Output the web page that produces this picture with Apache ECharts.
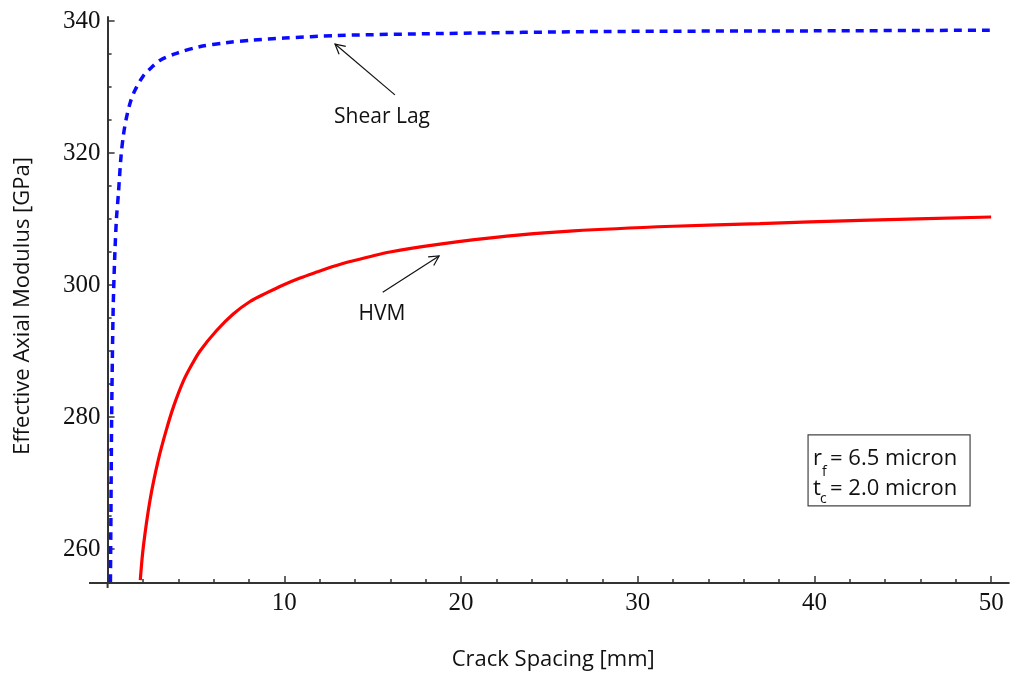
<!DOCTYPE html>
<html><head><meta charset="utf-8">
<script src="https://cdn.jsdelivr.net/npm/echarts@6/dist/echarts.min.js"></script>
<style>html,body{margin:0;padding:0;background:#fff}#c{width:1011px;height:679px}</style>
</head><body><div id="c"></div>
<script>
// ---- data ----
const shearLagX = [0.16,0.18,0.20,0.23,0.27,0.32,0.40,0.50,0.61,0.76,0.90,1.08,1.30,1.55,2.0,2.5,3.0,3.9,5.2,6.7,8.2,10,13,19,28,40,50];
const shearLagY = [255,262,270,280,289,297,304,310,313.8,319.5,322.8,325.5,327.8,329.5,331.6,333.0,334.1,335.1,336.1,336.7,337.1,337.4,337.8,338.1,338.4,338.5,338.6];
const hvmX = [1.85,2.02,2.4,2.87,3.34,3.76,4.28,4.76,5.23,6.17,7.11,8.06,9.0,9.94,10.89,11.83,12.7,13.72,15.98,18.81,22.59,26.36,32,36.9,42.6,50];
const hvmY = [255.3,260.3,267.4,273.5,278.2,281.8,285.4,287.9,290.0,293.1,295.6,297.5,298.8,300.0,301.05,301.95,302.75,303.55,305.0,306.2,307.4,308.2,308.9,309.3,309.8,310.3];
const xMajorTicks = [10,20,30,40,50];
const xMinorTicks = [2,4,6,8,12,14,16,18,22,24,26,28,32,34,36,38,42,44,46,48];
const yMajorTicks = [260,280,300,320,340];
const yMinorTicks = [255,265,270,275,285,290,295,305,310,315,325,330,335];
const xTitle = 'Crack Spacing [mm]';
const yTitle = 'Effective Axial Modulus [GPa]';
const seriesNames = ['Shear Lag','HVM'];
// annotation anchors in data coordinates
const shearLagNote = {text:[15.53,325.5], tail:[16.26,328.8], head:[12.87,336.5]};
const hvmNote = {text:[15.53,295.6], tail:[15.57,298.9], head:[18.76,304.4]};
const boxCorner = [39.64,277.3];
const axisOverhang = {xFrom:-1.05, yFrom:254.1};

const pairs = (xs, ys) => xs.map((x,i)=>[x, ys[i]]);
const chart = echarts.init(document.getElementById('c'), null, {renderer:'canvas'});
const axisColor = '#333';
const serif = 'Liberation Serif';
const sans = 'Open Sans';
const xRange = {min:0, max:51};
const yRange = {min:254.85, max:340.6};

const option = {
  animation:false,
  backgroundColor:'#fff',
  grid:{left:107.6, right:2.2, top:17, bottom:96, containLabel:false, outerBoundsMode:'none'},
  xAxis:[
    {type:'value', ...xRange, position:'bottom',
     axisLine:{show:true, onZero:false, lineStyle:{color:axisColor, width:2}},
     axisTick:{show:true, inside:true, length:7, customValues:xMajorTicks, lineStyle:{color:axisColor, width:1.5}},
     axisLabel:{show:true, customValues:xMajorTicks, margin:8, fontFamily:serif, fontSize:25, color:'#111'},
     splitLine:{show:false}},
    {type:'value', ...xRange, position:'bottom',
     axisLine:{show:false, onZero:false},
     axisTick:{show:true, inside:true, length:4, customValues:xMinorTicks, lineStyle:{color:axisColor, width:1.5}},
     axisLabel:{show:false},
     splitLine:{show:false}}
  ],
  yAxis:[
    {type:'value', ...yRange, position:'left',
     axisLine:{show:true, onZero:false, lineStyle:{color:axisColor, width:2}},
     axisTick:{show:true, inside:true, length:7, customValues:yMajorTicks, lineStyle:{color:axisColor, width:1.5}},
     axisLabel:{show:true, customValues:yMajorTicks, margin:7, fontFamily:serif, fontSize:25, color:'#111'},
     splitLine:{show:false}},
    {type:'value', ...yRange, position:'left',
     axisLine:{show:false, onZero:false},
     axisTick:{show:true, inside:true, length:4, customValues:yMinorTicks, lineStyle:{color:axisColor, width:1.5}},
     axisLabel:{show:false},
     splitLine:{show:false}}
  ],
  series:[
    {name:seriesNames[0], type:'line', xAxisIndex:0, yAxisIndex:0, data:pairs(shearLagX, shearLagY),
     showSymbol:false, smooth:0.3, clip:true,
     lineStyle:{color:'#0a0aff', width:3.5, type:[8,6]}},
    {name:seriesNames[1], type:'line', xAxisIndex:0, yAxisIndex:0, data:pairs(hvmX, hvmY),
     showSymbol:false, smooth:0.3, clip:true,
     lineStyle:{color:'#ff0000', width:3.2}}
  ]
};
chart.setOption(option);

function px(p){ return chart.convertToPixel({xAxisIndex:0, yAxisIndex:0}, p); }
function arrow(note){
  const t = px(note.tail), h = px(note.head);
  const dx = t[0]-h[0], dy = t[1]-h[1], L = Math.hypot(dx,dy);
  const ux = dx/L, uy = dy/L, len = 11, a = 28*Math.PI/180;
  const rot = (s)=>[ux*Math.cos(s)-uy*Math.sin(s), ux*Math.sin(s)+uy*Math.cos(s)];
  const r1 = rot(a), r2 = rot(-a);
  return [
    {type:'line', shape:{x1:t[0], y1:t[1], x2:h[0], y2:h[1]}, style:{stroke:'#111', lineWidth:1.2}},
    {type:'polyline', shape:{points:[[h[0]+r1[0]*len, h[1]+r1[1]*len],[h[0],h[1]],[h[0]+r2[0]*len, h[1]+r2[1]*len]]}, style:{stroke:'#111', lineWidth:1.2, fill:null}}
  ];
}
function label(note, text){
  const p = px(note.text);
  return {type:'text', x:p[0], y:p[1], style:{text:text, fontFamily:sans, fontSize:21, fill:'#111', align:'center', verticalAlign:'middle'}};
}
const origin = px([0, yRange.min]);
const left = px([axisOverhang.xFrom, yRange.min]);
const below = px([0, axisOverhang.yFrom]);
const gridRect = {x:origin[0], y:px([0, yRange.max])[1], r:px([xRange.max, yRange.min])[0], b:origin[1]};
const bc = px(boxCorner);
const fs = 22, sub = 14;
const box = {type:'group', x:bc[0], y:bc[1], children:[
  {type:'rect', shape:{x:0, y:0, width:162, height:71}, style:{fill:'#fff', stroke:'#444', lineWidth:1.2}},
  {type:'text', x:5, y:24, style:{text:'r', fontFamily:sans, fontSize:fs, fill:'#111', verticalAlign:'middle'}},
  {type:'text', x:14, y:37, style:{text:'f', fontFamily:sans, fontSize:sub, fill:'#111', verticalAlign:'middle'}},
  {type:'text', x:22, y:24, style:{text:'= 6.5 micron', fontFamily:sans, fontSize:fs, fill:'#111', verticalAlign:'middle'}},
  {type:'text', x:5, y:54, style:{text:'t', fontFamily:sans, fontSize:fs, fill:'#111', verticalAlign:'middle'}},
  {type:'text', x:12, y:64, style:{text:'c', fontFamily:sans, fontSize:sub, fill:'#111', verticalAlign:'middle'}},
  {type:'text', x:22, y:54, style:{text:'= 2.0 micron', fontFamily:sans, fontSize:fs, fill:'#111', verticalAlign:'middle'}}
]};
chart.setOption({graphic:[
  {type:'line', shape:{x1:left[0], y1:origin[1], x2:origin[0], y2:origin[1]}, style:{stroke:axisColor, lineWidth:2}},
  {type:'line', shape:{x1:origin[0], y1:origin[1], x2:origin[0], y2:below[1]}, style:{stroke:axisColor, lineWidth:2}},
  {type:'text', x:(gridRect.x+gridRect.r)/2-5, y:gridRect.b+77, style:{text:xTitle, fontFamily:sans, fontSize:22, fill:'#111', align:'center', verticalAlign:'middle'}},
  {type:'text', x:23, y:(gridRect.y+gridRect.b)/2+6, rotation:Math.PI/2, style:{text:yTitle, fontFamily:sans, fontSize:22, fill:'#111', align:'center', verticalAlign:'middle'}},
  ...arrow(shearLagNote), ...arrow(hvmNote),
  label(shearLagNote, seriesNames[0]), label(hvmNote, seriesNames[1]),
  box
]});
</script>
</body></html>
